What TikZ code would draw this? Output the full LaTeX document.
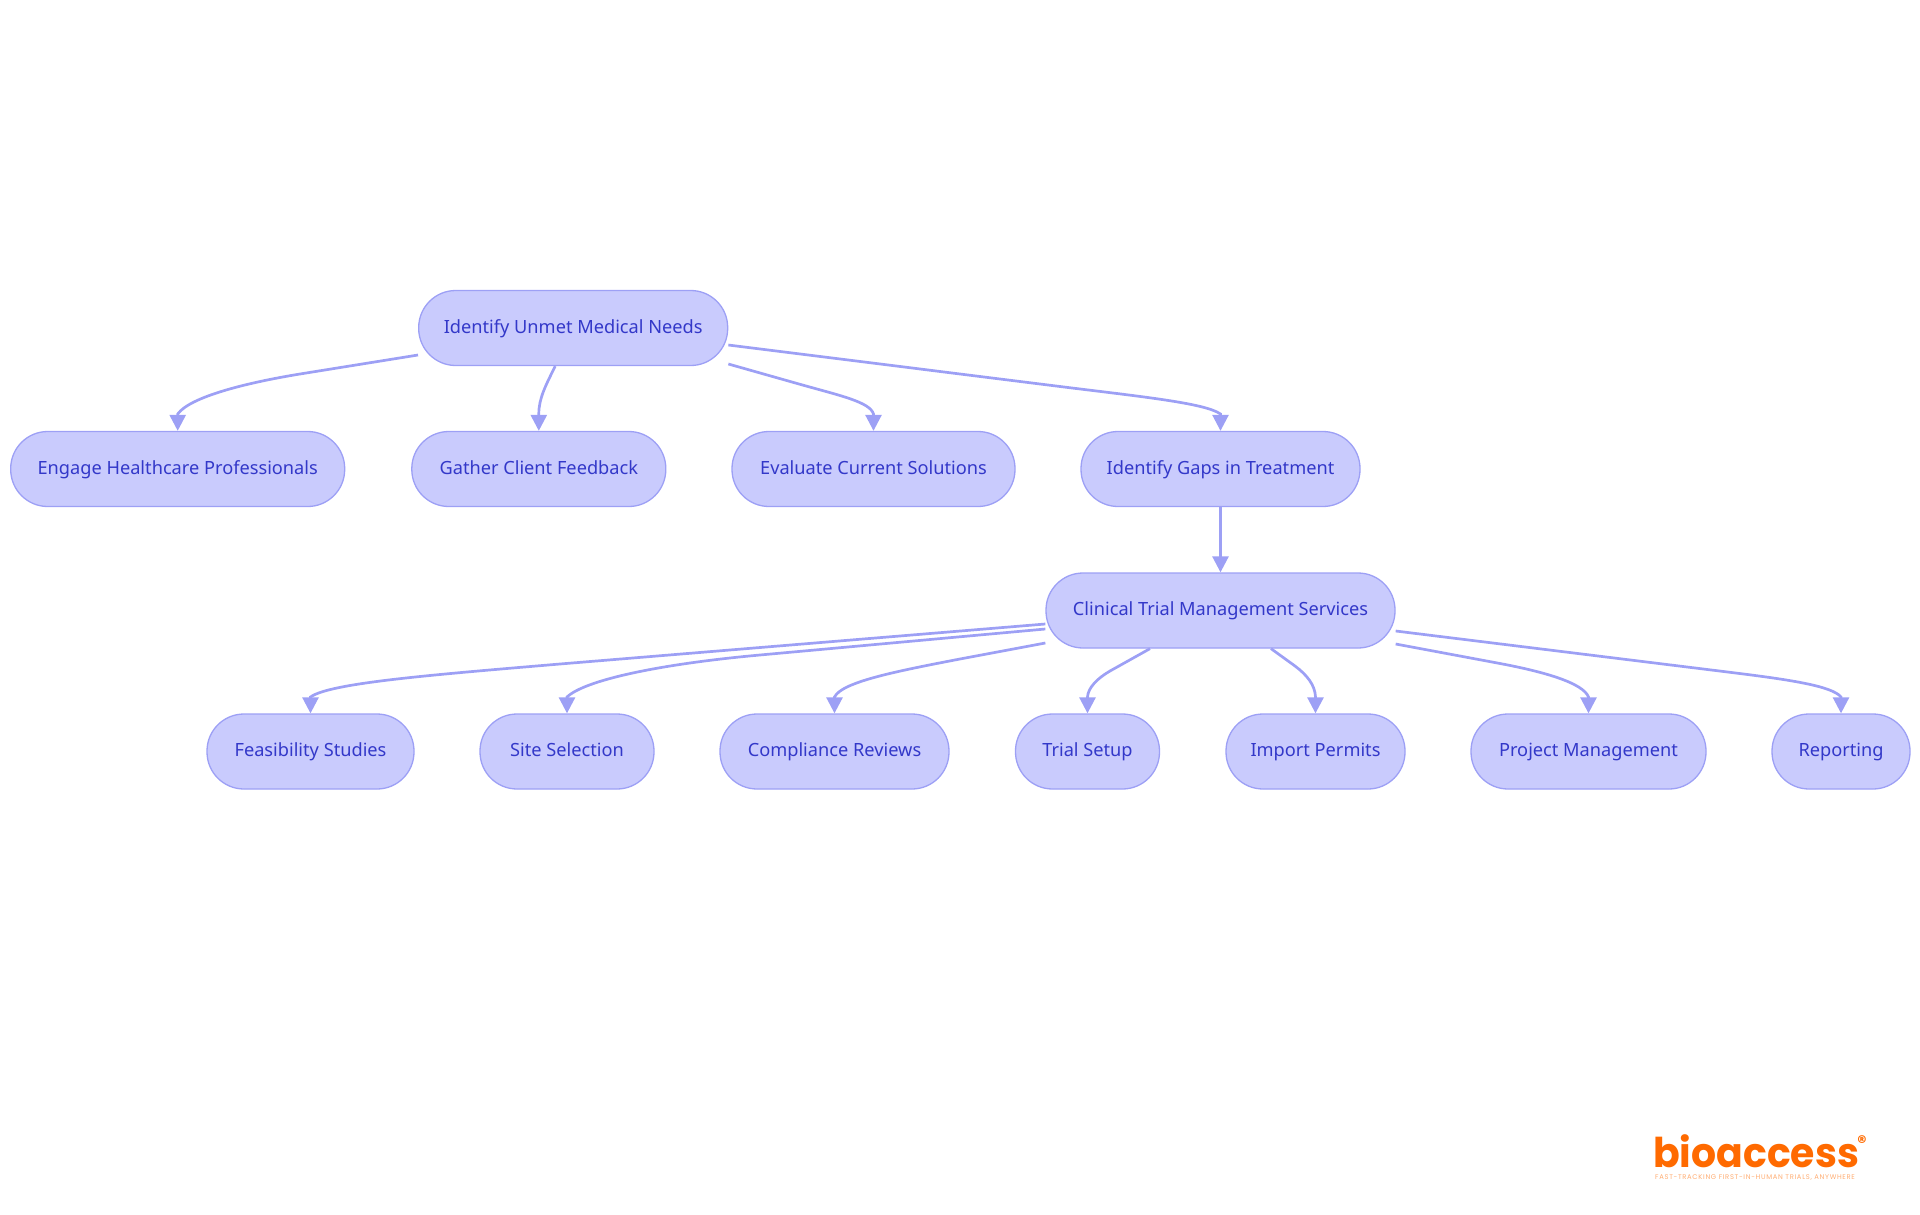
\documentclass[tikz,border=0pt]{standalone}
\usepackage{fontspec}
\usepackage{graphicx}
\setmainfont{Noto Sans}
\newfontfamily\logofont{Poppins}
\usetikzlibrary{arrows.meta}
\definecolor{boxfill}{HTML}{C9CBFD}
\definecolor{boxline}{HTML}{9DA0F5}
\definecolor{boxtext}{HTML}{3338C9}
\definecolor{logoorange}{HTML}{FF6A00}
\tikzset{
  box/.style={draw=boxline,fill=boxfill,line width=1.3pt,rounded corners=37pt,minimum height=75pt,inner sep=0pt,text=boxtext,text height=14pt,text depth=4pt,font=\fontsize{18.2}{22}\selectfont},
  edge/.style={draw=boxline,line width=2.7pt,-{Triangle[length=16pt,width=16pt]}}
}
\begin{document}
\begin{tikzpicture}[x=1pt,y=-1pt]
\useasboundingbox (0,0) rectangle (1920,1215);
\node[box,minimum width=309pt] (root) at (573.2,328) {Identify Unmet Medical Needs};
\node[box,minimum width=334pt] (engage) at (177.7,469) {Engage Healthcare Professionals};
\node[box,minimum width=254pt] (gather) at (538.8,469) {Gather Client Feedback};
\node[box,minimum width=283pt] (evaluate) at (873.5,469) {Evaluate Current Solutions};
\node[box,minimum width=279pt] (gaps) at (1220.5,469) {Identify Gaps in Treatment};
\node[box,minimum width=349pt] (clinical) at (1220.5,610.5) {Clinical Trial Management Services};
\node[box,minimum width=207pt] (feas) at (310.5,751.5) {Feasibility Studies};
\node[box,minimum width=174pt] (site) at (567,751.5) {Site Selection};
\node[box,minimum width=229pt] (comp) at (834.5,751.5) {Compliance Reviews};
\node[box,minimum width=144pt] (trial) at (1087.5,751.5) {Trial Setup};
\node[box,minimum width=179pt] (import) at (1315.5,751.5) {Import Permits};
\node[box,minimum width=235pt] (project) at (1588.5,751.5) {Project Management};
\node[box,minimum width=138pt] (report) at (1841,751.5) {Reporting};

\draw[edge] ([yshift=-27pt]root.west) -- (300,374) .. controls (245,383) and (190,397) .. (177.7,414) -- (engage.north);
\draw[edge] ([xshift=-18pt]root.south) .. controls (546,385) and (538.8,398) .. (538.8,414) -- (gather.north);
\draw[edge] ([yshift=-36pt]root.east) -- (800,384.3) .. controls (840,395.6) and (870,402) .. (873.5,414) -- (evaluate.north);
\draw[edge] ([yshift=-17pt]root.east) -- (1060,386.5) .. controls (1140,396.5) and (1205,403) .. (1220.5,414) -- (gaps.north);
\draw[edge] (gaps.south) -- (clinical.north);

\draw[edge] ([yshift=-13.5pt]clinical.west) -- (560,664) .. controls (430,675) and (330,683) .. (310.5,697) -- (feas.north);
\draw[edge] ([yshift=-18.5pt]clinical.west) -- (760,655) .. controls (660,664) and (585,680) .. (567,697) -- (site.north);
\draw[edge] ([yshift=-32.5pt]clinical.west) -- (960,659) .. controls (895,671.5) and (842,682) .. (834.5,697) -- (comp.north);
\draw[edge] ([xshift=-70.5pt]clinical.south) -- (1110,671) .. controls (1097,678.5) and (1088,688) .. (1087.5,697) -- (trial.north);
\draw[edge] ([xshift=50.5pt]clinical.south) -- (1295,666) .. controls (1307,675) and (1315,685) .. (1315.5,697) -- (import.north);
\draw[edge] ([yshift=-33.5pt]clinical.east) -- (1500,663.5) .. controls (1545,672) and (1583,683) .. (1588.5,697) -- (project.north);
\draw[edge] ([yshift=-20.5pt]clinical.east) -- (1730,672.3) .. controls (1790,679.7) and (1832,686) .. (1841,697) -- (report.north);

\node[anchor=base west,inner sep=0pt,text depth=0pt,text=logoorange,font=\logofont\bfseries\fontsize{41}{41}\selectfont] (logo) at (1653,1167) {\addfontfeature{FakeStretch=0.96}bioaccess};
\node[anchor=center,inner sep=0pt,text=logoorange,font=\logofont\bfseries\fontsize{18}{18}\selectfont] (reg) at (1862,1142) {®};
\node[anchor=base west,inner sep=0pt,text height=5pt,text depth=0pt,text=logoorange!55,font=\logofont\fontsize{6.8}{7}\selectfont] (tag) at (1655,1179.5) {\addfontfeature{LetterSpace=10}FAST-TRACKING FIRST-IN-HUMAN TRIALS, ANYWHERE};
\end{tikzpicture}
\end{document}
